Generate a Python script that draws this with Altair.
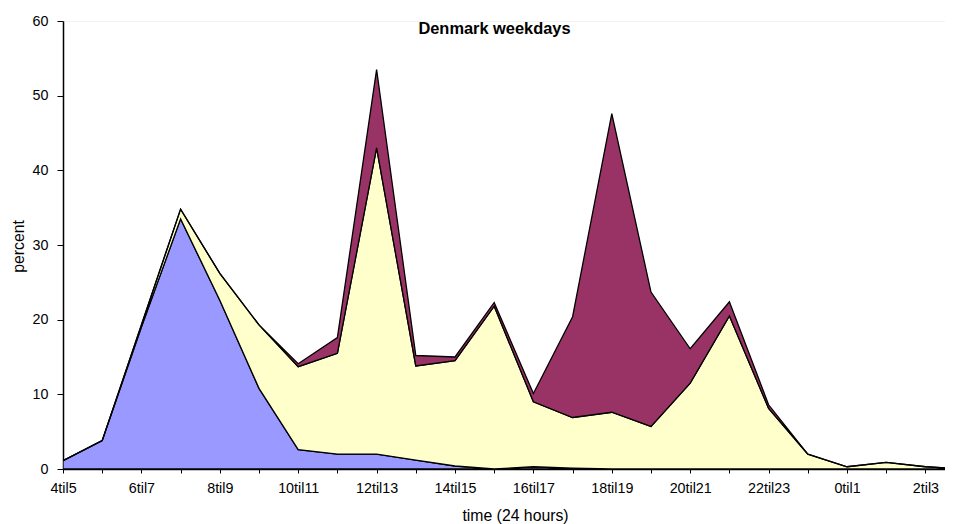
import altair as alt
import pandas as pd

categories = ["4til5", "5til6", "6til7", "7til8", "8til9", "9til10", "10til11", "11til12",
              "12til13", "13til14", "14til15", "15til16", "16til17", "17til18", "18til19",
              "19til20", "20til21", "21til22", "22til23", "23til0", "0til1", "1til2", "2til3", "3til4"]

series_names = ["Series 1", "Series 2", "Series 3"]
series_colors = ["#9999FF", "#FFFFCC", "#993366"]

series1 = [1.1, 3.8, 19.0, 33.5, 22.6, 10.8, 2.6, 2.0, 2.0, 1.2, 0.4, 0.0, 0.3, 0.1,
           0.0, 0.0, 0.0, 0.0, 0.0, 0.0, 0.0, 0.0, 0.0, 0.0]
series2 = [0.0, 0.0, 0.3, 1.3, 3.6, 8.5, 11.1, 13.5, 41.0, 12.6, 14.1, 21.8, 8.7, 6.8,
           7.6, 5.7, 11.5, 20.5, 8.1, 2.0, 0.3, 0.9, 0.3, 0.0]
series3 = [0.0, 0.0, 0.0, 0.0, 0.0, 0.0, 0.4, 2.1, 10.5, 1.4, 0.5, 0.5, 1.1, 13.5,
           40.0, 18.0, 4.6, 1.9, 0.5, 0.0, 0.0, 0.0, 0.0, 0.0]

rows = []
for order, (name, vals) in enumerate(zip(series_names, [series1, series2, series3])):
    for i, v in enumerate(vals):
        rows.append({"idx": i, "time": categories[i], "series": name, "value": v, "order": order})
df = pd.DataFrame(rows)

W = 882
H = 448
step = 39.2
xmax = W / step

labels_js = "[" + ",".join("'%s'" % c for c in categories) + "]"
label_expr = "datum.value % 2 == 0 ? " + labels_js + "[datum.value] : ''"

FONT = "Liberation Sans"

areas = alt.Chart(df).mark_area(
    stroke="black", strokeWidth=1.3, interpolate="linear", clip=True, strokeJoin="miter"
).encode(
    x=alt.X("idx:Q",
            scale=alt.Scale(domain=[0, xmax], nice=False, zero=False),
            axis=alt.Axis(values=list(range(23)), labelExpr=label_expr, grid=False,
                          title="time (24 hours)", titleX=452, titleY=46,
                          titleBaseline="middle", titleAlign="center",
                          titleFontWeight="normal", titleFontSize=15.8, titleFont=FONT,
                          titleColor="black",
                          labelFontSize=14.3, labelFont=FONT, labelColor="black",
                          labelPadding=8, tickSize=4, tickColor="black",
                          domainColor="black", domainWidth=1.5, labelFlush=False)),
    y=alt.Y("value:Q", stack="zero",
            scale=alt.Scale(domain=[0, 60], nice=False),
            axis=alt.Axis(values=[0, 10, 20, 30, 40, 50, 60], grid=False,
                          title="percent", titleX=-44.3, titleY=225,
                          titleBaseline="middle", titleAlign="center",
                          titleFontWeight="normal", titleFontSize=15.8, titleFont=FONT,
                          titleColor="black",
                          labelFontSize=14.3, labelFont=FONT, labelColor="black",
                          labelPadding=9, tickSize=6, tickColor="black",
                          domainColor="black", domainWidth=1.5)),
    color=alt.Color("series:N", scale=alt.Scale(domain=series_names, range=series_colors),
                    legend=None),
    order=alt.Order("order:Q"),
)

title = alt.Chart(pd.DataFrame({"t": ["Denmark weekdays"]})).mark_text(
    font=FONT, fontSize=16.4, fontWeight="bold", color="black", baseline="middle", align="center"
).encode(
    text="t:N", x=alt.value(431.5), y=alt.value(7.5)
)

chart = alt.layer(areas, title).properties(
    width=W, height=H,
    autosize=alt.AutoSizeParams(type="none"),
    padding={"left": 55, "top": 13, "right": 0, "bottom": 55},
).configure_view(stroke="#f2f2f2", strokeWidth=1)

chart.save("out.html", embed_options={"renderer": "svg", "actions": False})
